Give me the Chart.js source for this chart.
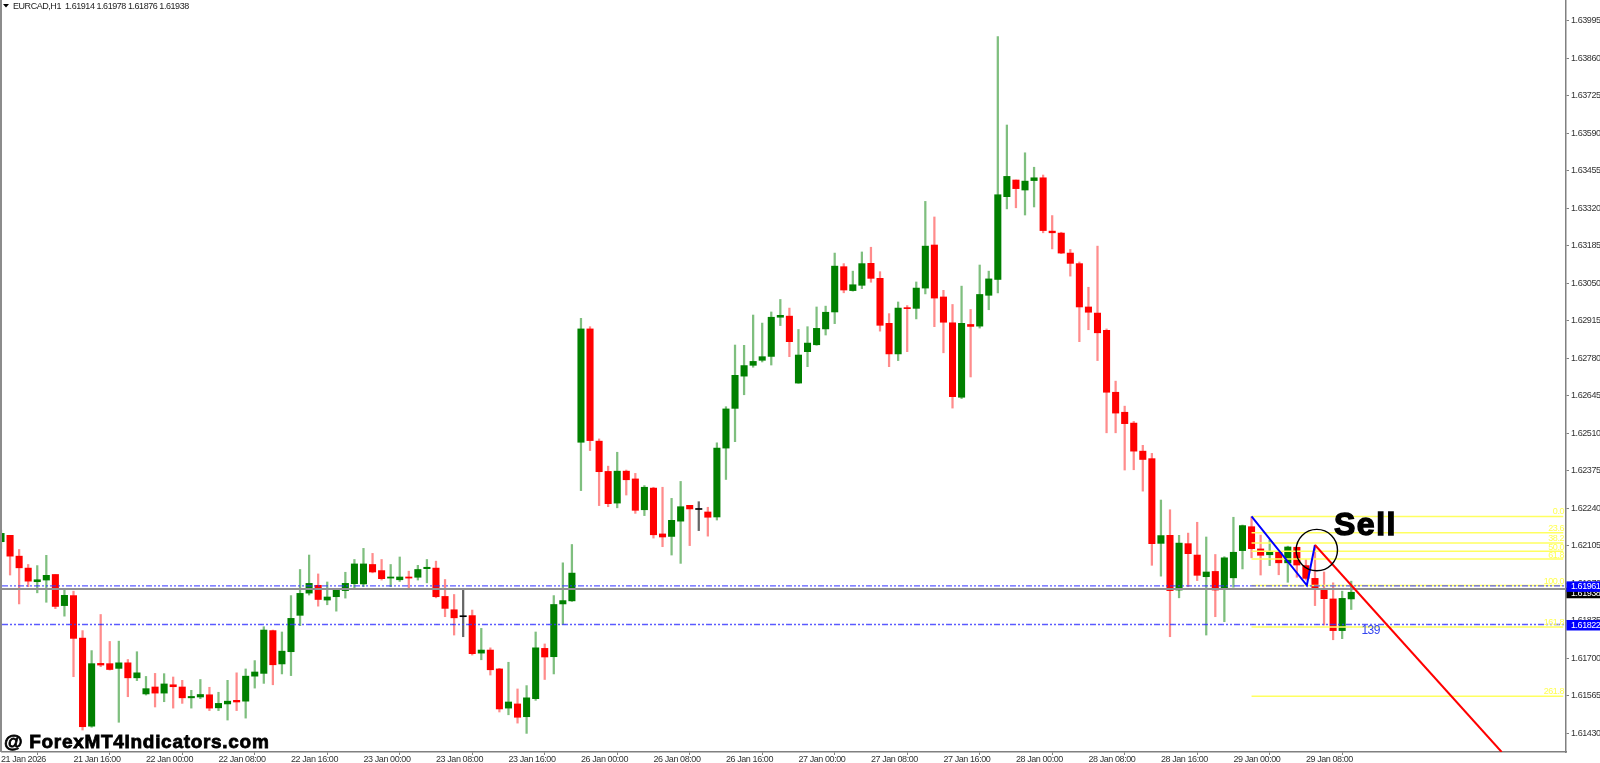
<!DOCTYPE html>
<html><head><meta charset="utf-8">
<script src="https://cdn.jsdelivr.net/npm/chart.js@4"></script>
<style>html,body{margin:0;padding:0;background:#fff;overflow:hidden}canvas{display:block}</style>
</head><body><canvas id="c" width="1600" height="763" style="width:1600px;height:763px"></canvas>
<script>
const opens=[1.62120,1.62143,1.62068,1.62025,1.61976,1.61982,1.62002,1.61890,1.61926,1.61773,
1.61456,1.61682,1.61681,1.61664,1.61684,1.61630,1.61572,1.61597,1.61575,1.61605,
1.61597,1.61558,1.61561,1.61569,1.61522,1.61536,1.61549,1.61546,1.61636,1.61646,
1.61800,1.61680,1.61724,1.61855,1.61935,1.61963,1.61910,1.61922,1.61944,1.61969,
1.61968,1.62038,1.62016,1.61989,1.61983,1.61993,1.61992,1.62023,1.62025,1.61923,
1.61875,1.61850,1.61854,1.61719,1.61730,1.61662,1.61521,1.61536,1.61490,1.61555,
1.61736,1.61706,1.61896,1.61907,1.62478,1.62886,1.62482,1.62373,1.62259,1.62374,
1.62346,1.62235,1.62313,1.62148,1.62139,1.62194,1.62251,1.62236,1.62227,1.62209,
1.62457,1.62600,1.62716,1.62755,1.62773,1.62787,1.62928,1.62932,1.62691,1.62804,
1.62829,1.62886,1.62947,1.63110,1.63024,1.63043,1.63122,1.63068,1.62906,1.62796,
1.62962,1.62960,1.63033,1.63188,1.63001,1.62908,1.62640,1.62902,1.62896,1.63007,
1.63064,1.63362,1.63422,1.63386,1.63420,1.63430,1.63238,1.63231,1.63159,1.63121,
1.62965,1.62943,1.62881,1.62658,1.62586,1.62547,1.62446,1.62419,1.62114,1.62143,
1.61946,1.62113,1.62072,1.61994,1.62013,1.61950,1.61990,1.62088,1.62174,1.62094,
1.62073,1.62082,1.62044,1.62100,1.62034,1.61988,1.61952,1.61914,1.61800,1.61914];
const highs=[1.62162,1.62143,1.62092,1.62038,1.62034,1.62071,1.62002,1.61952,1.61942,1.61800,
1.61728,1.61858,1.61761,1.61762,1.61696,1.61724,1.61635,1.61646,1.61645,1.61633,
1.61621,1.61585,1.61624,1.61596,1.61578,1.61621,1.61648,1.61662,1.61692,1.61814,
1.61802,1.61795,1.61926,1.62020,1.62072,1.62004,1.61975,1.61952,1.62010,1.62056,
1.62096,1.62078,1.62056,1.62038,1.62065,1.62014,1.62035,1.62056,1.62050,1.61984,
1.61930,1.61945,1.61874,1.61808,1.61738,1.61664,1.61686,1.61590,1.61602,1.61795,
1.61752,1.61926,1.62044,1.62110,1.62924,1.62894,1.62490,1.62392,1.62442,1.62378,
1.62366,1.62322,1.62316,1.62316,1.62276,1.62337,1.62251,1.62264,1.62244,1.62476,
1.62606,1.62828,1.62827,1.62936,1.62907,1.62947,1.62992,1.62961,1.62884,1.62894,
1.62965,1.62968,1.63159,1.63121,1.63094,1.63163,1.63180,1.63092,1.62941,1.62983,
1.62970,1.63055,1.63345,1.63289,1.63025,1.62974,1.63040,1.62956,1.63116,1.63094,
1.63938,1.63620,1.63422,1.63520,1.63468,1.63440,1.63294,1.63234,1.63172,1.63127,
1.63036,1.63184,1.62886,1.62698,1.62608,1.62553,1.62467,1.62438,1.62270,1.62235,
1.62143,1.62151,1.62190,1.62137,1.62074,1.62066,1.62208,1.62180,1.62210,1.62144,
1.62126,1.62084,1.62104,1.62100,1.62056,1.62108,1.62011,1.61972,1.61942,1.61978];
const lows=[1.62096,1.62000,1.61896,1.61958,1.61936,1.61902,1.61879,1.61852,1.61634,1.61442,
1.61452,1.61670,1.61658,1.61470,1.61562,1.61620,1.61568,1.61525,1.61544,1.61521,
1.61538,1.61521,1.61555,1.61512,1.61512,1.61478,1.61512,1.61485,1.61593,1.61610,
1.61605,1.61644,1.61638,1.61818,1.61928,1.61888,1.61893,1.61870,1.61917,1.61948,
1.61958,1.62008,1.61982,1.61958,1.61977,1.61953,1.61982,1.61972,1.61918,1.61850,
1.61784,1.61778,1.61712,1.61695,1.61640,1.61507,1.61497,1.61467,1.61430,1.61549,
1.61624,1.61644,1.61822,1.61905,1.62304,1.62448,1.62250,1.62246,1.62242,1.62288,
1.62222,1.62214,1.62133,1.62102,1.62072,1.62042,1.62106,1.62160,1.62140,1.62198,
1.62344,1.62480,1.62649,1.62748,1.62767,1.62756,1.62898,1.62786,1.62690,1.62750,
1.62827,1.62864,1.62905,1.63016,1.63022,1.63031,1.63054,1.62878,1.62750,1.62772,
1.62804,1.62922,1.63012,1.62894,1.62800,1.62601,1.62635,1.62713,1.62889,1.62955,
1.63016,1.63318,1.63322,1.63296,1.63325,1.63232,1.63174,1.63157,1.63076,1.62840,
1.62883,1.62772,1.62512,1.62512,1.62378,1.62379,1.62302,1.62035,1.61996,1.61778,
1.61918,1.61958,1.61980,1.61784,1.61850,1.61832,1.61956,1.62022,1.62062,1.62000,
1.62034,1.62001,1.61974,1.61992,1.61982,1.61890,1.61820,1.61767,1.61771,1.61876];
const closes=[1.62150,1.62068,1.62026,1.61978,1.61983,1.61999,1.61887,1.61927,1.61772,1.61454,
1.61681,1.61676,1.61660,1.61684,1.61630,1.61648,1.61591,1.61575,1.61608,1.61598,
1.61558,1.61563,1.61570,1.61521,1.61538,1.61546,1.61543,1.61636,1.61651,1.61802,
1.61677,1.61726,1.61844,1.61934,1.61970,1.61912,1.61921,1.61947,1.61970,1.62040,
1.62040,1.62011,1.61987,1.61993,1.61993,1.61989,1.62020,1.62028,1.61922,1.61880,
1.61846,1.61850,1.61717,1.61730,1.61659,1.61518,1.61543,1.61488,1.61558,1.61738,
1.61705,1.61894,1.61908,1.62007,1.62886,1.62484,1.62372,1.62257,1.62374,1.62343,
1.62233,1.62316,1.62145,1.62137,1.62197,1.62246,1.62238,1.62236,1.62208,1.62457,
1.62598,1.62719,1.62754,1.62769,1.62786,1.62928,1.62935,1.62840,1.62792,1.62835,
1.62888,1.62946,1.63112,1.63026,1.63045,1.63121,1.63068,1.62899,1.62796,1.62961,
1.62959,1.63033,1.63184,1.62997,1.62910,1.62642,1.62906,1.62895,1.63010,1.63066,
1.63369,1.63435,1.63391,1.63418,1.63430,1.63240,1.63232,1.63159,1.63122,1.62965,
1.62946,1.62872,1.62658,1.62583,1.62545,1.62446,1.62416,1.62113,1.62142,1.61944,
1.62115,1.62077,1.61999,1.62011,1.61946,1.62062,1.62082,1.62178,1.62095,1.62071,
1.62085,1.62044,1.62101,1.62036,1.61988,1.61950,1.61915,1.61800,1.61916,1.61938];

const dateTicks=["21 Jan 2026","21 Jan 16:00","22 Jan 00:00","22 Jan 08:00","22 Jan 16:00","23 Jan 00:00","23 Jan 08:00","23 Jan 16:00","26 Jan 00:00","26 Jan 08:00","26 Jan 16:00","27 Jan 00:00","27 Jan 08:00","27 Jan 16:00","28 Jan 00:00","28 Jan 08:00","28 Jan 16:00","29 Jan 00:00","29 Jan 08:00"];
const dateTickIndex=[0,8,16,24,32,40,48,56,64,72,80,88,96,104,112,120,128,136,144];
const priceTicks=[1.63995,1.63860,1.63725,1.63590,1.63455,1.63320,1.63185,1.63050,1.62915,1.62780,1.62645,1.62510,1.62375,1.62240,1.62105,1.61970,1.61835,1.61700,1.61565,1.61430];
const fibNames=["0.0","23.6","38.2","50.0","61.8","100.0","161.8","261.8"];
const fibPrices=[1.62211,1.62152,1.62115,1.62086,1.62058,1.61962,1.61813,1.61564];
const fibStartIndex=138;
const zigzagIndex=[138,144.1,145];
const zigzagPrice=[1.62211,1.61963,1.62108];
const sellLineIndex=[145,165.6];
const sellLinePrice=[1.62108,1.61363];
const levelUpper=1.61961, levelLower=1.61822, bidPrice=1.61938, greyLevel=1.61950;
const circleIndex=145.2, circlePrice=1.62090;
const xMin=0.11, xMax=172.7, yMin=1.61363, yMax=1.64070;

const idx=opens.map((_,i)=>i);
const green='#008000', red='#ff0000', doji='#000000';
const sans='"Liberation Sans"';
const dir=i=>closes[i]>opens[i]?green:(closes[i]<opens[i]?red:doji);
const wickCol=i=>{const d=dir(i);return d===green?'rgba(0,128,0,0.5)':d===red?'rgba(255,0,0,0.45)':'rgba(0,0,0,0.6)';};
const hline=(p,from,to)=>[{x:from,y:p},{x:to,y:p}];
const lineDs=(data,color,width,dash,order)=>({type:'line',data,borderColor:color,borderWidth:width,borderDash:dash||[],pointRadius:0,tension:0,fill:false,order,parsing:false});

const datasets=[
 {type:'bar',data:idx.map(i=>({x:i,y:[lows[i],highs[i]]})),backgroundColor:idx.map(wickCol),barThickness:1.6,grouped:false,order:10},
 {type:'bar',data:idx.map(i=>({x:i,y:[opens[i],closes[i]]})),backgroundColor:idx.map(dir),barThickness:6.4,minBarLength:1,grouped:false,order:9},
 ...fibPrices.map(p=>lineDs(hline(p,fibStartIndex,172.4),'#ffff60',1.5,null,8)),
 lineDs(hline(greyLevel,xMin,xMax),'#909090',2,null,7),
 lineDs(hline(levelUpper,xMin,xMax),'rgba(50,50,255,0.8)',1.3,[6,2,2,2,2,2],6),
 lineDs(hline(levelLower,xMin,xMax),'rgba(50,50,255,0.8)',1.3,[6,2,2,2,2,2],6),
 lineDs(zigzagIndex.map((x,i)=>({x,y:zigzagPrice[i]})),'#0000ff',2,null,5),
 lineDs(sellLineIndex.map((x,i)=>({x,y:sellLinePrice[i]})),'#ff0000',2,null,4),
 {type:'scatter',data:[{x:circleIndex,y:circlePrice}],pointStyle:'circle',pointRadius:20.7,pointHoverRadius:20.7,pointBorderColor:'#000',pointBorderWidth:1.4,pointBackgroundColor:'rgba(0,0,0,0)',order:3,clip:false}
];

const overlay={id:'overlay',
 beforeDraw(chart){chart.ctx.letterSpacing='-0.42px';},
 afterDraw(chart){
 const c=chart.ctx,Y=chart.scales.y,A=chart.chartArea;
 c.save();
 // left edge
 c.fillStyle='#8c8c8c';c.fillRect(0,0,2,A.bottom);
 // header
 c.fillStyle='#000';c.beginPath();c.moveTo(3,4);c.lineTo(9,4);c.lineTo(6,7.5);c.closePath();c.fill();
 c.letterSpacing='-0.45px';
 c.fillStyle='#222';c.font='9px '+sans;c.textAlign='left';c.textBaseline='middle';
 c.fillText('EURCAD,H1  '+[opens[149],highs[149],lows[149],closes[149]].map(v=>v.toFixed(5)).join(' '),13,6.5);
 // fib labels
 c.font='9px '+sans;c.fillStyle='#ffff50';c.textAlign='right';c.textBaseline='bottom';
 fibNames.forEach((n,i)=>c.fillText(n,1564,Y.getPixelForValue(fibPrices[i])+ (i===3||i===4?1:0)));
 // price tags
 const tag=(p,bg,fg)=>{const y=Y.getPixelForValue(p);c.fillStyle=bg;c.fillRect(A.right+0.5,y-4.5,34,10.5);c.fillStyle=fg;c.font='9px '+sans;c.textAlign='left';c.textBaseline='middle';c.fillText(p.toFixed(5),A.right+5,y+0.8);};
 tag(bidPrice,'#000','#fff');tag(levelUpper,'#0000ff','#fff');tag(levelLower,'#0000ff','#fff');
 // 139
 c.letterSpacing='-0.6px';
 c.fillStyle='#3344ee';c.font='12px '+sans;c.textAlign='left';c.textBaseline='middle';c.fillText('139',1361.5,630.8);
 // Sell
 c.fillStyle='#000';c.strokeStyle='#000';c.lineWidth=1.4;c.font='bold 32px '+sans;c.textBaseline='alphabetic';c.letterSpacing='1.5px';
 c.fillText('Sell',1334,535);c.strokeText('Sell',1334,535);
 // watermark
 c.letterSpacing='0.7px';c.font='bold 19px '+sans;c.lineWidth=0.8;c.fillText('@ ForexMT4Indicators.com',4,748);c.strokeText('@ ForexMT4Indicators.com',4,748);c.letterSpacing='0px';
 c.restore();
}};
const noPad=s=>{s.paddingLeft=s.paddingRight=s.paddingTop=s.paddingBottom=0;};

new Chart(document.getElementById('c'),{
 data:{datasets},
 plugins:[overlay],
 options:{
  responsive:false,animation:false,
  layout:{autoPadding:false,padding:{left:2,right:0,top:0,bottom:0}},
  plugins:{legend:{display:false},tooltip:{enabled:false},title:{display:false}},
  scales:{
   x:{type:'linear',min:xMin,max:xMax,offset:false,
     afterBuildTicks(s){s.ticks=dateTickIndex.map(v=>({value:v}));},
     afterFit(s){s.height=11;noPad(s);},
     grid:{display:true,drawOnChartArea:false,drawTicks:true,tickLength:3,color:'#808080'},
     border:{display:true,color:'#808080',width:1.5},
     ticks:{autoSkip:false,maxRotation:0,minRotation:0,align:'start',padding:-1,color:'#333',font:{family:sans,size:9},
       callback(v){const k=dateTickIndex.indexOf(v);return k>=0?dateTicks[k]:'';}}},
   y:{type:'linear',position:'right',min:yMin,max:yMax,
     afterBuildTicks(s){s.ticks=priceTicks.map(v=>({value:v}));},
     afterFit(s){s.width=34;noPad(s);},
     grid:{display:true,drawOnChartArea:false,drawTicks:true,tickLength:3,color:'#808080'},
     border:{display:true,color:'#808080',width:1.5},
     ticks:{autoSkip:false,padding:2,color:'#333',font:{family:sans,size:9},callback(v){return v.toFixed(5);}}}
  }
 }
});
</script></body></html>
